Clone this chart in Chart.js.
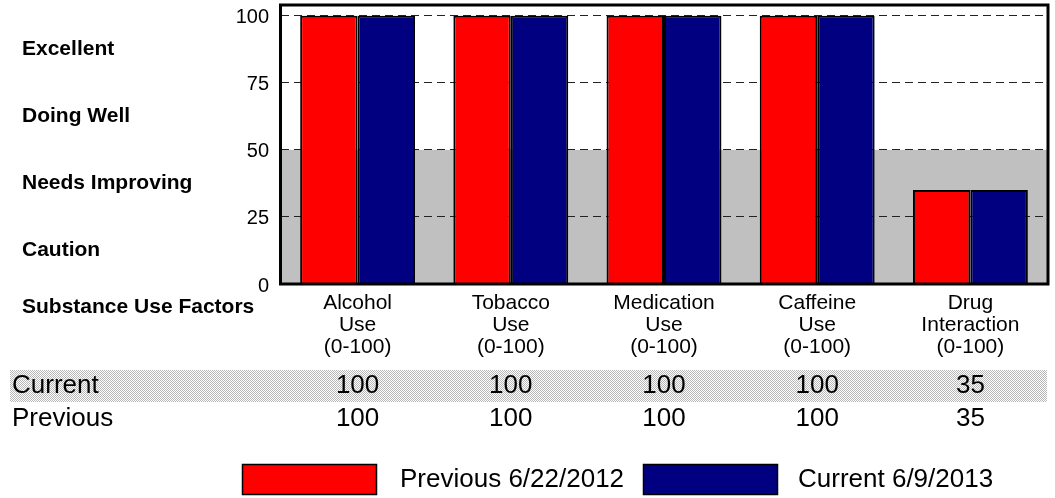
<!DOCTYPE html>
<html>
<head>
<meta charset="utf-8">
<title>Substance Use Factors</title>
<script src="https://cdn.jsdelivr.net/npm/chart.js@4"></script>
<style>
  html, body { margin: 0; padding: 0; background: #ffffff; }
  #wrap { width: 1055px; height: 498px; position: relative; }
</style>
</head>
<body>
<div id="wrap"><canvas id="chart" width="1055" height="498"></canvas></div>
<script>
// Categories (multi-line axis labels)
const categories = [
  ['Alcohol', 'Use', '(0-100)'],
  ['Tobacco', 'Use', '(0-100)'],
  ['Medication', 'Use', '(0-100)'],
  ['Caffeine', 'Use', '(0-100)'],
  ['Drug', 'Interaction', '(0-100)']
];
// Scores per factor
const previousValues = [100, 100, 100, 100, 35];
const currentValues = [100, 100, 100, 100, 35];
// Series names
const seriesLabels = ['Previous 6/22/2012', 'Current 6/9/2013'];
// Y axis ticks
const yTicks = [0, 25, 50, 75, 100];
// Rating bands, top to bottom, with the band centre values
const bandLabels = ['Excellent', 'Doing Well', 'Needs Improving', 'Caution'];
const bandCenters = [87.5, 62.5, 37.5, 12.5];
const axisTitle = 'Substance Use Factors';
// Value table rows
const tableRowLabels = ['Current', 'Previous'];
// Shaded range on the plot
const shadedRange = [0, 50];

const FONT = 'Arial, "Liberation Sans", Helvetica, sans-serif';

// 1px checkerboard used for the highlighted table row
function checkerPattern(ctx) {
  const c = document.createElement('canvas');
  c.width = 2; c.height = 2;
  const p = c.getContext('2d');
  p.fillStyle = '#ffffff'; p.fillRect(0, 0, 2, 2);
  p.fillStyle = '#b8b8b8';
  p.fillRect(0, 0, 1, 1); p.fillRect(1, 1, 1, 1);
  return ctx.createPattern(c, 'repeat');
}

const decorPlugin = {
  id: 'decor',
  beforeDraw(chart) {
    const { ctx, chartArea: a, scales: { y } } = chart;
    ctx.save();
    ctx.fillStyle = '#ffffff';
    ctx.fillRect(0, 0, chart.width, chart.height);
    // grey band behind grid and bars
    const yTop = y.getPixelForValue(shadedRange[1]);
    const yBot = y.getPixelForValue(shadedRange[0]);
    ctx.fillStyle = '#c0c0c0';
    ctx.fillRect(a.left, yTop, a.right - a.left, yBot - yTop);
    ctx.restore();
  },
  afterDatasetsDraw(chart) {
    const { ctx, chartArea: a, scales: { x, y } } = chart;
    ctx.save();
    // frame round the plot
    ctx.strokeStyle = '#000000';
    ctx.lineWidth = 3;
    ctx.strokeRect(a.left - 0.5, a.top, a.right - a.left + 1.5, a.bottom - a.top);

    // rating band labels
    ctx.fillStyle = '#000000';
    ctx.font = 'bold 21px ' + FONT;
    ctx.textAlign = 'left';
    ctx.textBaseline = 'middle';
    bandLabels.forEach((t, i) => {
      ctx.fillText(t, 22, y.getPixelForValue(bandCenters[i]));
    });
    ctx.fillText(axisTitle, 22, 307);

    // value table
    const rowY = [386, 419];
    const rowData = [currentValues, previousValues];
    ctx.fillStyle = checkerPattern(ctx);
    ctx.fillRect(10, 370, a.right - 10, 32);
    ctx.fillStyle = '#000000';
    ctx.font = '26px ' + FONT;
    tableRowLabels.forEach((t, r) => {
      ctx.textAlign = 'left';
      ctx.fillText(t, 12, rowY[r]);
      ctx.textAlign = 'center';
      rowData[r].forEach((v, i) => {
        ctx.fillText(String(v), x.getPixelForValue(i), rowY[r]);
      });
    });

    // legend
    const boxes = [242, 643];
    const texts = [400, 798];
    chart.data.datasets.forEach((ds, i) => {
      ctx.fillStyle = ds.backgroundColor;
      ctx.fillRect(boxes[i], 464, 135, 31);
      ctx.strokeStyle = '#000000';
      ctx.lineWidth = 1.5;
      ctx.strokeRect(boxes[i] + 0.5, 464.5, 134, 30);
      ctx.fillStyle = '#000000';
      ctx.textAlign = 'left';
      ctx.font = '26px ' + FONT;
      ctx.fillText(ds.label, texts[i], 480);
    });
    ctx.restore();
  }
};

new Chart(document.getElementById('chart'), {
  type: 'bar',
  data: {
    labels: categories,
    datasets: [
      {
        label: seriesLabels[0],
        data: previousValues,
        backgroundColor: '#ff0000',
        borderColor: '#000000',
        borderWidth: 2
      },
      {
        label: seriesLabels[1],
        data: currentValues,
        backgroundColor: '#000080',
        borderColor: '#000000',
        borderWidth: 2
      }
    ]
  },
  options: {
    responsive: false,
    animation: false,
    devicePixelRatio: 1,
    layout: { padding: { left: 0, right: 8, top: 5, bottom: 0 } },
    datasets: { bar: { categoryPercentage: 0.75, barPercentage: 1.0 } },
    plugins: {
      legend: { display: false },
      tooltip: { enabled: false },
      title: { display: false }
    },
    scales: {
      x: {
        grid: { display: false },
        border: { display: false },
        ticks: {
          color: '#000000',
          font: { family: FONT, size: 21, lineHeight: 1.05 },
          padding: 0,
          maxRotation: 0,
          autoSkip: false
        },
        afterFit(scale) {
          scale.height = 214;
          scale.paddingLeft = 0;
          scale.paddingRight = 0;
        }
      },
      y: {
        min: 0,
        max: 104,
        afterBuildTicks(scale) {
          scale.ticks = yTicks.map(v => ({ value: v }));
        },
        grid: {
          color: ctx => (ctx.tick && ctx.tick.value === 0) ? 'rgba(0,0,0,0)' : '#222222',
          lineWidth: 1,
          drawTicks: false
        },
        border: { display: false, dash: [8, 5] },
        ticks: {
          color: '#000000',
          font: { family: FONT, size: 20 },
          padding: 12,
          labelOffset: 2
        },
        afterFit(scale) {
          scale.width = 281;
          scale.paddingTop = 0;
          scale.paddingBottom = 0;
        }
      }
    }
  },
  plugins: [decorPlugin]
});
</script>
</body>
</html>
